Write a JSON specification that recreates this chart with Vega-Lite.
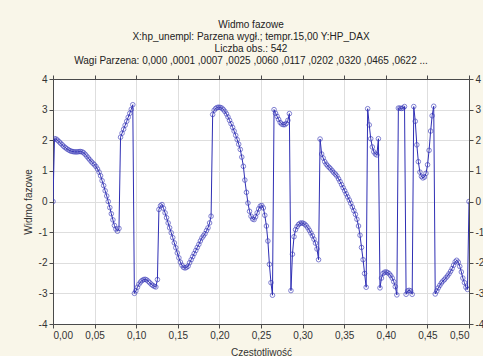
{
  "$schema": "https://vega.github.io/schema/vega-lite/v6.json",
  "autosize": "none",
  "width": 416,
  "height": 245,
  "padding": {"left": 53, "top": 79, "right": 14, "bottom": 32},
  "background": "#f9f6e9",
  "title": {
    "text": [
      "Widmo fazowe",
      "X:hp_unempl: Parzena wygł.; tempr.15,00 Y:HP_DAX",
      "Liczba obs.: 542",
      "Wagi Parzena:  0,000 ,0001 ,0007 ,0025 ,0060 ,0117 ,0202 ,0320 ,0465 ,0622  ..."
    ],
    "anchor": "middle",
    "dx": -10,
    "offset": 8,
    "font": "Liberation Sans",
    "fontSize": 10,
    "fontWeight": "normal",
    "color": "#222222",
    "lineHeight": 12
  },
  "datasets": {
    "phase": [
      {"f": 0, "p": 0}, {"f": 0.0018, "p": 2.05}, {"f": 0.0037, "p": 2.04}, {"f": 0.0055, "p": 2.0},
      {"f": 0.0074, "p": 1.95}, {"f": 0.0092, "p": 1.9}, {"f": 0.0111, "p": 1.85}, {"f": 0.0129, "p": 1.8},
      {"f": 0.0148, "p": 1.76}, {"f": 0.0166, "p": 1.72}, {"f": 0.0185, "p": 1.69}, {"f": 0.0203, "p": 1.66},
      {"f": 0.0221, "p": 1.64}, {"f": 0.024, "p": 1.63}, {"f": 0.0258, "p": 1.62}, {"f": 0.0277, "p": 1.62},
      {"f": 0.0295, "p": 1.62}, {"f": 0.0314, "p": 1.63}, {"f": 0.0332, "p": 1.63}, {"f": 0.0351, "p": 1.62},
      {"f": 0.0369, "p": 1.59}, {"f": 0.0387, "p": 1.54}, {"f": 0.0406, "p": 1.48}, {"f": 0.0424, "p": 1.42},
      {"f": 0.0443, "p": 1.36}, {"f": 0.0461, "p": 1.3}, {"f": 0.048, "p": 1.25}, {"f": 0.0498, "p": 1.2},
      {"f": 0.0517, "p": 1.14}, {"f": 0.0535, "p": 1.06}, {"f": 0.0554, "p": 0.96}, {"f": 0.0572, "p": 0.84},
      {"f": 0.059, "p": 0.68}, {"f": 0.0609, "p": 0.52}, {"f": 0.0627, "p": 0.35}, {"f": 0.0646, "p": 0.18},
      {"f": 0.0664, "p": 0.0}, {"f": 0.0683, "p": -0.2}, {"f": 0.0701, "p": -0.4}, {"f": 0.072, "p": -0.6},
      {"f": 0.0738, "p": -0.78}, {"f": 0.0756, "p": -0.9}, {"f": 0.0775, "p": -0.97}, {"f": 0.0793, "p": -0.88},
      {"f": 0.0812, "p": 2.1}, {"f": 0.083, "p": 2.23}, {"f": 0.0849, "p": 2.36}, {"f": 0.0867, "p": 2.49},
      {"f": 0.0886, "p": 2.62}, {"f": 0.0904, "p": 2.75}, {"f": 0.0923, "p": 2.88}, {"f": 0.0941, "p": 3.01},
      {"f": 0.0959, "p": 3.16}, {"f": 0.0978, "p": -3.0}, {"f": 0.0996, "p": -2.92}, {"f": 0.1015, "p": -2.8},
      {"f": 0.1033, "p": -2.7}, {"f": 0.1052, "p": -2.63}, {"f": 0.107, "p": -2.58}, {"f": 0.1089, "p": -2.55},
      {"f": 0.1107, "p": -2.54}, {"f": 0.1125, "p": -2.56}, {"f": 0.1144, "p": -2.6}, {"f": 0.1162, "p": -2.65},
      {"f": 0.1181, "p": -2.7}, {"f": 0.1199, "p": -2.74}, {"f": 0.1218, "p": -2.77}, {"f": 0.1236, "p": -2.79},
      {"f": 0.1255, "p": -2.55}, {"f": 0.1273, "p": -0.26}, {"f": 0.1292, "p": -0.14}, {"f": 0.131, "p": -0.1},
      {"f": 0.1328, "p": -0.22}, {"f": 0.1347, "p": -0.37}, {"f": 0.1365, "p": -0.53}, {"f": 0.1384, "p": -0.7},
      {"f": 0.1402, "p": -0.86}, {"f": 0.1421, "p": -1.02}, {"f": 0.1439, "p": -1.18}, {"f": 0.1458, "p": -1.35},
      {"f": 0.1476, "p": -1.51}, {"f": 0.1494, "p": -1.68}, {"f": 0.1513, "p": -1.84}, {"f": 0.1531, "p": -1.98},
      {"f": 0.155, "p": -2.08}, {"f": 0.1568, "p": -2.15}, {"f": 0.1587, "p": -2.17}, {"f": 0.1605, "p": -2.15},
      {"f": 0.1624, "p": -2.11}, {"f": 0.1642, "p": -2.0}, {"f": 0.1661, "p": -1.9}, {"f": 0.1679, "p": -1.8},
      {"f": 0.1697, "p": -1.7}, {"f": 0.1716, "p": -1.6}, {"f": 0.1734, "p": -1.5}, {"f": 0.1753, "p": -1.4},
      {"f": 0.1771, "p": -1.29}, {"f": 0.179, "p": -1.19}, {"f": 0.1808, "p": -1.12}, {"f": 0.1827, "p": -1.05},
      {"f": 0.1845, "p": -0.95}, {"f": 0.1863, "p": -0.86}, {"f": 0.1882, "p": -0.7}, {"f": 0.19, "p": -0.48},
      {"f": 0.1919, "p": 2.84}, {"f": 0.1937, "p": 2.98}, {"f": 0.1956, "p": 3.04}, {"f": 0.1974, "p": 3.07},
      {"f": 0.1993, "p": 3.08}, {"f": 0.2011, "p": 3.07}, {"f": 0.203, "p": 3.05}, {"f": 0.2048, "p": 3.0},
      {"f": 0.2066, "p": 2.94}, {"f": 0.2085, "p": 2.86}, {"f": 0.2103, "p": 2.76}, {"f": 0.2122, "p": 2.65},
      {"f": 0.214, "p": 2.54}, {"f": 0.2159, "p": 2.42}, {"f": 0.2177, "p": 2.3}, {"f": 0.2196, "p": 2.16},
      {"f": 0.2214, "p": 2.02}, {"f": 0.2232, "p": 1.87}, {"f": 0.2251, "p": 1.7}, {"f": 0.2269, "p": 1.45},
      {"f": 0.2288, "p": 1.15}, {"f": 0.2306, "p": 0.7}, {"f": 0.2325, "p": 0.3}, {"f": 0.2343, "p": -0.05},
      {"f": 0.2362, "p": -0.32}, {"f": 0.238, "p": -0.48}, {"f": 0.2399, "p": -0.57}, {"f": 0.2417, "p": -0.59},
      {"f": 0.2435, "p": -0.5}, {"f": 0.2454, "p": -0.37}, {"f": 0.2472, "p": -0.24}, {"f": 0.2491, "p": -0.15},
      {"f": 0.2509, "p": -0.13}, {"f": 0.2528, "p": -0.21}, {"f": 0.2546, "p": -0.45}, {"f": 0.2565, "p": -0.8},
      {"f": 0.2583, "p": -1.29}, {"f": 0.2601, "p": -2.05}, {"f": 0.262, "p": -2.65}, {"f": 0.2638, "p": -3.06},
      {"f": 0.2657, "p": 3.0}, {"f": 0.2675, "p": 2.88}, {"f": 0.2694, "p": 2.78}, {"f": 0.2712, "p": 2.68},
      {"f": 0.2731, "p": 2.58}, {"f": 0.2749, "p": 2.53}, {"f": 0.2768, "p": 2.51}, {"f": 0.2786, "p": 2.51},
      {"f": 0.2804, "p": 2.55}, {"f": 0.2823, "p": 2.65}, {"f": 0.2841, "p": 2.87}, {"f": 0.286, "p": -2.91},
      {"f": 0.2878, "p": -1.72}, {"f": 0.2897, "p": -1.15}, {"f": 0.2915, "p": -0.92}, {"f": 0.2934, "p": -0.82},
      {"f": 0.2952, "p": -0.75}, {"f": 0.297, "p": -0.71}, {"f": 0.2989, "p": -0.7}, {"f": 0.3007, "p": -0.71},
      {"f": 0.3026, "p": -0.74}, {"f": 0.3044, "p": -0.79}, {"f": 0.3063, "p": -0.86}, {"f": 0.3081, "p": -0.94},
      {"f": 0.31, "p": -1.03}, {"f": 0.3118, "p": -1.12}, {"f": 0.3137, "p": -1.23}, {"f": 0.3155, "p": -1.36},
      {"f": 0.3173, "p": -1.55}, {"f": 0.3192, "p": -1.9}, {"f": 0.321, "p": 2.04}, {"f": 0.3229, "p": 1.55},
      {"f": 0.3247, "p": 1.42}, {"f": 0.3266, "p": 1.3}, {"f": 0.3284, "p": 1.22}, {"f": 0.3303, "p": 1.16},
      {"f": 0.3321, "p": 1.11}, {"f": 0.3339, "p": 1.06}, {"f": 0.3358, "p": 1.0}, {"f": 0.3376, "p": 0.94},
      {"f": 0.3395, "p": 0.89}, {"f": 0.3413, "p": 0.83}, {"f": 0.3432, "p": 0.74}, {"f": 0.345, "p": 0.65},
      {"f": 0.3469, "p": 0.55}, {"f": 0.3487, "p": 0.45}, {"f": 0.3506, "p": 0.35}, {"f": 0.3524, "p": 0.25},
      {"f": 0.3542, "p": 0.15}, {"f": 0.3561, "p": 0.05}, {"f": 0.3579, "p": -0.06}, {"f": 0.3598, "p": -0.18},
      {"f": 0.3616, "p": -0.3}, {"f": 0.3635, "p": -0.42}, {"f": 0.3653, "p": -0.58}, {"f": 0.3672, "p": -0.8},
      {"f": 0.369, "p": -1.1}, {"f": 0.3708, "p": -1.5}, {"f": 0.3727, "p": -1.9}, {"f": 0.3745, "p": -2.35},
      {"f": 0.3764, "p": -2.8}, {"f": 0.3782, "p": 3.03}, {"f": 0.3801, "p": 2.5}, {"f": 0.3819, "p": 2.05},
      {"f": 0.3838, "p": 1.78}, {"f": 0.3856, "p": 1.62}, {"f": 0.3875, "p": 1.55}, {"f": 0.3893, "p": 1.52},
      {"f": 0.3911, "p": 2.05}, {"f": 0.393, "p": -2.82}, {"f": 0.3948, "p": -2.5}, {"f": 0.3967, "p": -2.35},
      {"f": 0.3985, "p": -2.31}, {"f": 0.4004, "p": -2.3}, {"f": 0.4022, "p": -2.32}, {"f": 0.4041, "p": -2.36},
      {"f": 0.4059, "p": -2.42}, {"f": 0.4077, "p": -2.5}, {"f": 0.4096, "p": -2.62}, {"f": 0.4114, "p": -2.78},
      {"f": 0.4133, "p": -3.05}, {"f": 0.4151, "p": 3.05}, {"f": 0.417, "p": 3.05}, {"f": 0.4188, "p": 3.04},
      {"f": 0.4207, "p": 3.05}, {"f": 0.4225, "p": 3.1}, {"f": 0.4244, "p": -3.03}, {"f": 0.4262, "p": -2.92},
      {"f": 0.428, "p": -2.9}, {"f": 0.4299, "p": -2.92}, {"f": 0.4317, "p": -3.03}, {"f": 0.4336, "p": 3.1},
      {"f": 0.4354, "p": 2.62}, {"f": 0.4373, "p": 1.85}, {"f": 0.4391, "p": 1.3}, {"f": 0.441, "p": 0.96},
      {"f": 0.4428, "p": 0.82}, {"f": 0.4446, "p": 0.77}, {"f": 0.4465, "p": 0.8}, {"f": 0.4483, "p": 0.92},
      {"f": 0.4502, "p": 1.2}, {"f": 0.452, "p": 1.67}, {"f": 0.4539, "p": 2.3}, {"f": 0.4557, "p": 2.8},
      {"f": 0.4576, "p": 3.11}, {"f": 0.4594, "p": -3.02}, {"f": 0.4613, "p": -2.92}, {"f": 0.4631, "p": -2.82},
      {"f": 0.4649, "p": -2.74}, {"f": 0.4668, "p": -2.66}, {"f": 0.4686, "p": -2.6}, {"f": 0.4705, "p": -2.55},
      {"f": 0.4723, "p": -2.49}, {"f": 0.4742, "p": -2.43}, {"f": 0.476, "p": -2.36}, {"f": 0.4779, "p": -2.28},
      {"f": 0.4797, "p": -2.19}, {"f": 0.4815, "p": -2.08}, {"f": 0.4834, "p": -1.97}, {"f": 0.4852, "p": -1.92},
      {"f": 0.4871, "p": -1.98}, {"f": 0.4889, "p": -2.12}, {"f": 0.4908, "p": -2.3}, {"f": 0.4926, "p": -2.5},
      {"f": 0.4945, "p": -2.65}, {"f": 0.4963, "p": -2.8}, {"f": 0.4982, "p": -2.87}, {"f": 0.5, "p": 0.0}
    ]
  },
  "data": {"name": "phase"},
  "layer": [
    {
      "mark": {"type": "line", "color": "#2f2fb4", "strokeWidth": 1, "clip": true},
      "encoding": {
        "x": {
          "field": "f", "type": "quantitative",
          "scale": {"domain": [0, 0.5], "nice": false, "zero": false},
          "axis": {
            "orient": "bottom",
            "title": "Częstotliwość",
            "values": [0, 0.05, 0.1, 0.15, 0.2, 0.25, 0.3, 0.35, 0.4, 0.45, 0.5],
            "labelExpr": "replace(format(datum.value, '.2f'), '.', ',')",
            "grid": true,
            "titlePadding": 7
          }
        },
        "y": {
          "field": "p", "type": "quantitative",
          "scale": {"domain": [-4, 4], "nice": false, "zero": false},
          "axis": {
            "orient": "left",
            "title": "Widmo fazowe",
            "values": [-4, -3, -2, -1, 0, 1, 2, 3, 4],
            "labelExpr": "(datum.value < 0 ? '-' : '') + format(abs(datum.value), 'd')",
            "grid": true,
            "titlePadding": 5
          }
        }
      }
    },
    {
      "mark": {"type": "point", "shape": "circle", "filled": false, "color": "#3838b8", "size": 21, "strokeWidth": 0.9, "clip": true},
      "encoding": {
        "x": {
          "field": "f", "type": "quantitative",
          "scale": {"domain": [0, 0.5], "nice": false, "zero": false},
          "axis": {
            "orient": "top",
            "title": null,
            "values": [0, 0.05, 0.1, 0.15, 0.2, 0.25, 0.3, 0.35, 0.4, 0.45, 0.5],
            "labels": false,
            "grid": false
          }
        },
        "y": {
          "field": "p", "type": "quantitative",
          "scale": {"domain": [-4, 4], "nice": false, "zero": false},
          "axis": {
            "orient": "right",
            "title": null,
            "values": [-4, -3, -2, -1, 0, 1, 2, 3, 4],
            "labelExpr": "(datum.value < 0 ? '-' : '') + format(abs(datum.value), 'd')",
            "grid": false
          }
        }
      }
    }
  ],
  "resolve": {"axis": {"x": "independent", "y": "independent"}},
  "config": {
    "view": {"fill": "#ffffff", "stroke": "#4a4a4a", "strokeWidth": 1},
    "axis": {
      "labelFont": "Liberation Sans",
      "labelFontSize": 10,
      "labelColor": "#333333",
      "labelPadding": 2,
      "titleFont": "Liberation Sans",
      "titleFontSize": 10,
      "titleFontWeight": "normal",
      "titleColor": "#333333",
      "tickColor": "#4a4a4a",
      "tickSize": 4,
      "domainColor": "#4a4a4a",
      "gridColor": "#dedede",
      "gridWidth": 1
    }
  }
}
